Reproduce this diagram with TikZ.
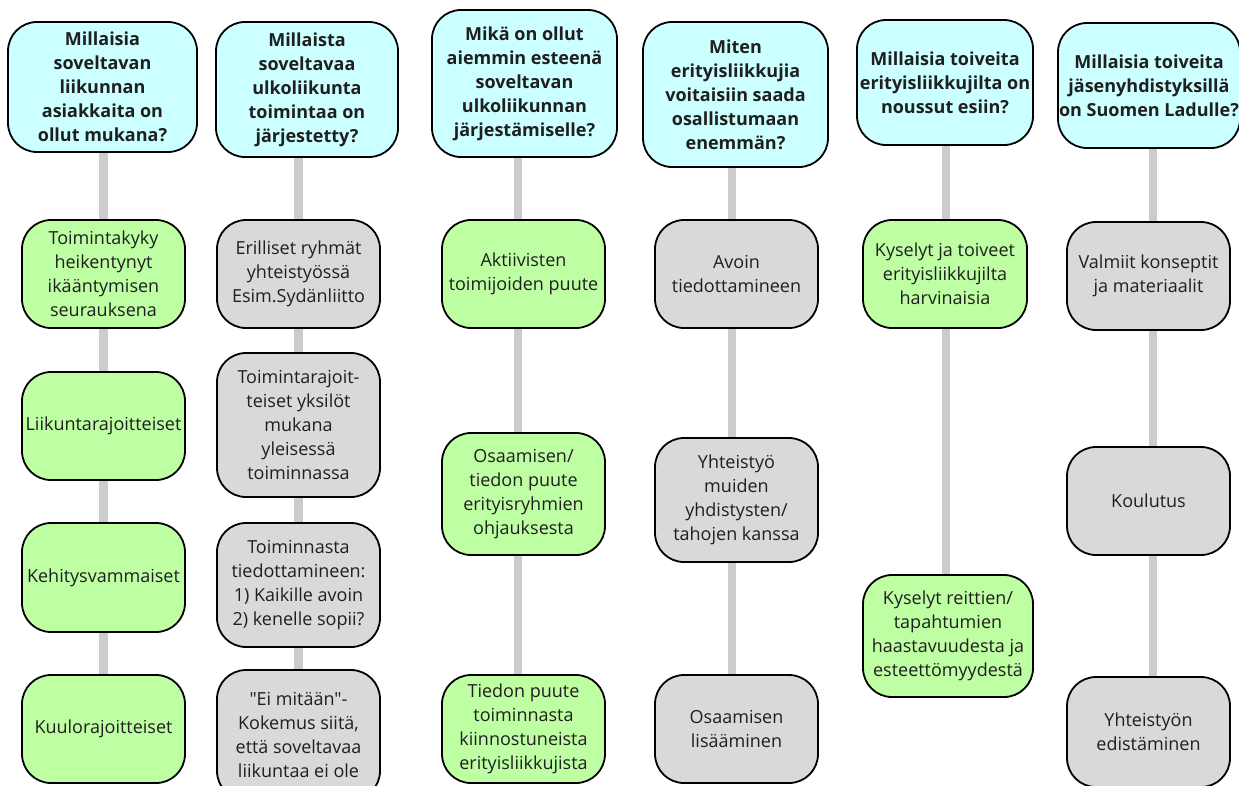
\documentclass[tikz,border=0pt]{standalone}
\usepackage{fontspec}
\newfontfamily\ofont{Open Sans}
\usetikzlibrary{backgrounds}
\definecolor{qcyan}{RGB}{204,255,255}
\definecolor{agreen}{RGB}{191,255,163}
\definecolor{agray}{RGB}{217,217,217}
\definecolor{conncol}{RGB}{204,204,204}
\tikzset{
  boxbase/.style={draw=black, line width=1.8pt, rounded corners=29pt, align=center, inner sep=0pt, text=black!88},
  qbox/.style={boxbase, fill=qcyan, font=\ofont\bfseries\fontsize{18}{24}\selectfont},
  gbox/.style={boxbase, fill=agreen, font=\ofont\fontsize{18}{24}\selectfont},
  ybox/.style={boxbase, fill=agray, font=\ofont\fontsize{18}{24}\selectfont},
  conn/.style={draw=conncol, line width=8.5pt},
  sz/.style 2 args={minimum width=#1pt, minimum height=#2pt}
}
\begin{document}
\begin{tikzpicture}[x=1pt,y=1pt]
\useasboundingbox (0,0) rectangle (1239,-785);
\clip (0,0) rectangle (1239,-785);
% column 1
\node[qbox, sz={189}{130}] (h1) at (102.5,-87) {Millaisia\\soveltavan\\liikunnan\\asiakkaita on\\ollut mukana?};
\node[gbox, sz={163}{108}] (n11) at (103.5,-274) {Toimintakyky\\heikentynyt\\ikääntymisen\\seurauksena};
\node[gbox, sz={163}{108}] (n12) at (103.5,-426) {Liikuntarajoitteiset};
\node[gbox, sz={163}{109}] (n13) at (103.5,-577.5) {Kehitysvammaiset};
\node[gbox, sz={163}{108}] (n14) at (103.5,-729) {Kuulorajoitteiset};
% column 2
\node[qbox, sz={182}{135}] (h2) at (307,-89.5) {Millaista\\soveltavaa\\ulkoliikunta\\toimintaa on\\järjestetty?};
\node[ybox, sz={163}{108}] (n21) at (298.5,-274) {Erilliset ryhmät\\yhteistyössä\\Esim.Sydänliitto};
\node[ybox, sz={163}{144}] (n22) at (298.5,-425) {Toimintarajoit-\\teiset yksilöt\\mukana\\yleisessä\\toiminnassa};
\node[ybox, sz={163}{124}] (n23) at (298.5,-585) {Toiminnasta\\tiedottamineen:\\1) Kaikille avoin\\2) kenelle sopii?};
\node[ybox, sz={163}{130}] (n24) at (298.5,-735) {"Ei mitään"-\\Kokemus siitä,\\että soveltavaa\\liikuntaa ei ole};
% column 3
\node[qbox, sz={185}{147}] (h3) at (524.5,-83.5) {Mikä on ollut\\aiemmin esteenä\\soveltavan\\ulkoliikunnan\\järjestämiselle?};
\node[gbox, sz={163}{108}] (n31) at (523.5,-274) {Aktiivisten\\toimijoiden puute};
\node[gbox, sz={163}{122}] (n32) at (523.5,-494) {Osaamisen/\\tiedon puute\\erityisryhmien\\ohjauksesta};
\node[gbox, sz={163}{108}] (n33) at (523.5,-729) {Tiedon puute\\toiminnasta\\kiinnostuneista\\erityisliikkujista};
% column 4
\node[qbox, sz={185}{145}] (h4) at (735.5,-94.5) {Miten\\erityisliikkujia\\voitaisiin saada\\osallistumaan\\enemmän?};
\node[ybox, sz={163}{108}] (n41) at (736.5,-274) {Avoin\\tiedottamineen};
\node[ybox, sz={163}{124}] (n42) at (736.5,-500) {Yhteistyö\\muiden\\yhdistysten/\\tahojen kanssa};
\node[ybox, sz={163}{108}] (n43) at (736.5,-729) {Osaamisen\\lisääminen};
% column 5
\node[qbox, sz={176}{125}] (h5) at (945,-82.5) {Millaisia toiveita\\erityisliikkujilta on\\noussut esiin?};
\node[gbox, sz={164}{108}] (n51) at (945,-274) {Kyselyt ja toiveet\\erityisliikkujilta\\harvinaisia};
\node[gbox, sz={170}{122}] (n52) at (948,-636) {Kyselyt reittien/\\tapahtumien\\haastavuudesta ja\\esteettömyydestä};
% column 6
\node[qbox, sz={182}{125}] (h6) at (1149,-85.5) {Millaisia toiveita\\jäsenyhdistyksillä\\on Suomen Ladulle?};
\node[ybox, sz={163}{108}] (n61) at (1148.5,-276) {Valmiit konseptit\\ja materiaalit};
\node[ybox, sz={163}{108}] (n62) at (1148.5,-501) {Koulutus};
\node[ybox, sz={163}{110}] (n63) at (1148.5,-732) {Yhteistyön\\edistäminen};
% connectors
\begin{pgfonlayer}{background}
\fill[white] (0,0) rectangle (1239,-785);
\draw[conn] (h1.center -| n11.center) -- (n11) -- (n12) -- (n13) -- (n14);
\draw[conn] (h2.center -| n21.center) -- (n21) -- (n22) -- (n23) -- (n24);
\draw[conn] (h3.center -| 518,0) -- (n31.center -| 518,0) -- (n32.center -| 518,0) -- (n33.center -| 518,0);
\draw[conn] (h4.center -| 732,0) -- (n41.center -| 732,0) -- (n42.center -| 732,0) -- (n43.center -| 732,0);
\draw[conn] (h5.center -| 946,0) -- (n51.center -| 946,0) -- (n52.center -| 946,0);
\draw[conn] (h6.center -| 1153,0) -- (n61.center -| 1153,0) -- (n62.center -| 1153,0) -- (n63.center -| 1153,0);
\end{pgfonlayer}
\end{tikzpicture}
\end{document}
